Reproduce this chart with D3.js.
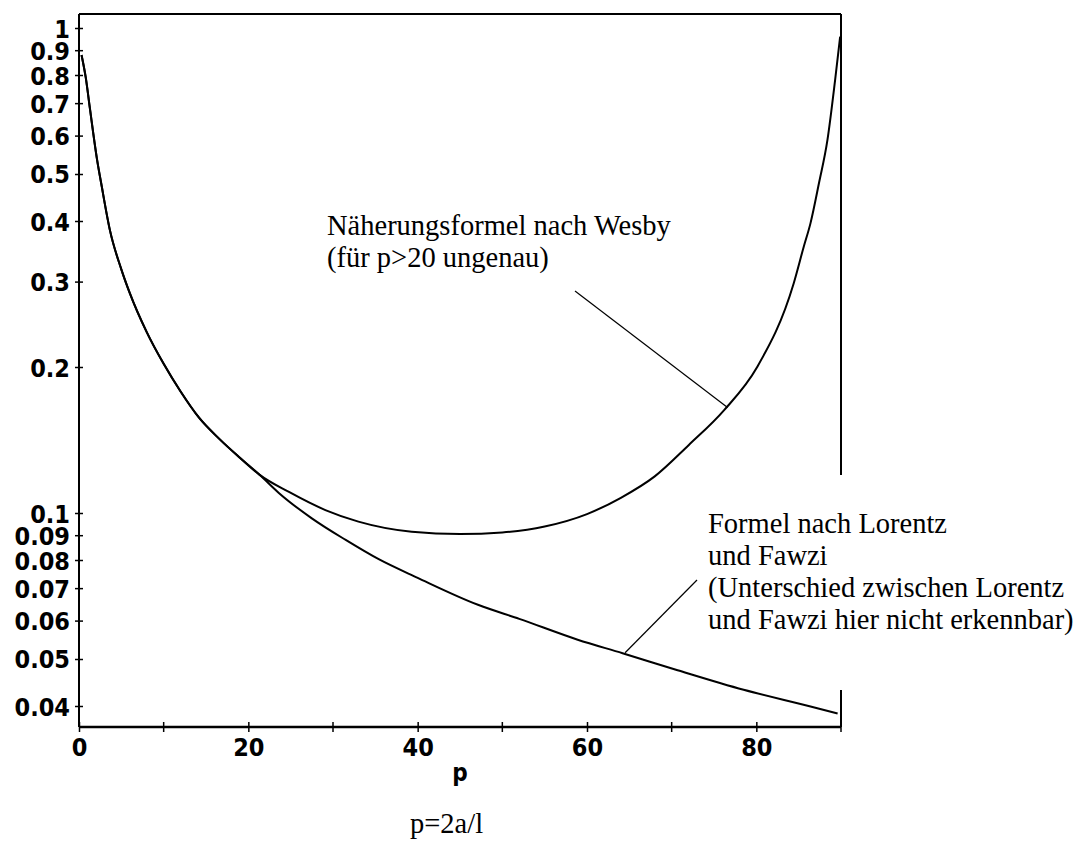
<!DOCTYPE html>
<html>
<head>
<meta charset="utf-8">
<script src="https://cdn.jsdelivr.net/npm/d3@7"></script>
<style>
  html, body { margin: 0; padding: 0; background: #fff; }
  svg { display: block; }
  .tick text { font-family: "DejaVu Sans Condensed", "DejaVu Sans", sans-serif; font-stretch: condensed; font-weight: bold; font-size: 25px; fill: #000; }
  .note { font-family: "Liberation Serif", "Times New Roman", serif; font-size: 28.5px; fill: #000; }
</style>
</head>
<body>
<svg id="chart" width="1088" height="843"></svg>
<script>
// ---- data ----
const xTicks = [0, 20, 40, 60, 80];
const xMinorTicks = [10, 30, 50, 70, 90];
const yTicks = [1, 0.9, 0.8, 0.7, 0.6, 0.5, 0.4, 0.3, 0.2, 0.1, 0.09, 0.08, 0.07, 0.06, 0.05, 0.04];
const yTickLabels = ["1", "0.9", "0.8", "0.7", "0.6", "0.5", "0.4", "0.3", "0.2", "0.1", "0.09", "0.08", "0.07", "0.06", "0.05", "0.04"];

// common part of both curves (p < ~21)
const commonP = [0.3, 0.8, 1.3, 2.1, 2.7, 3.65, 5, 6, 8, 10, 12, 14.2, 16.6, 19, 21.3];
const commonV = [0.88, 0.79, 0.68, 0.54, 0.47, 0.383, 0.318, 0.284, 0.236, 0.203, 0.178, 0.157, 0.142, 0.13, 0.12];

// Näherungsformel nach Wesby
const wesbyP = [24.8, 29.1, 33, 39.3, 45, 50, 55, 60, 64, 68, 72, 76.2, 80.1, 84.4, 85.6, 86.4, 87.4, 88.4, 89.3, 89.9];
const wesbyV = [0.1105, 0.1014, 0.096, 0.0915, 0.0905, 0.0912, 0.0938, 0.0995, 0.1075, 0.119, 0.138, 0.163, 0.2, 0.297, 0.354, 0.396, 0.479, 0.588, 0.78, 0.96];

// Formel nach Lorentz und Fawzi
const lorentzP = [23.6, 27.5, 31.5, 35.4, 40, 47.2, 52, 58.9, 64.2, 70.7, 78.5, 86.4, 89.6];
const lorentzV = [0.110, 0.0975, 0.088, 0.0803, 0.0735, 0.0646, 0.0605, 0.0548, 0.0514, 0.0474, 0.0432, 0.0399, 0.0386];

const wesbyText = ["Näherungsformel nach Wesby", "(für p>20 ungenau)"];
const lorentzText = ["Formel nach Lorentz", "und Fawzi", "(Unterschied zwischen Lorentz", "und Fawzi hier nicht erkennbar)"];

// ---- layout ----
const L = 79, R = 841, T = 14, B = 727;
const svg = d3.select("#chart");

const x = d3.scaleLinear().domain([0, 90]).range([L, R]);
const pxPerDecade = 485, yOne = 28;
const y = d3.scaleLog()
  .domain([Math.pow(10, -(B - yOne) / pxPerDecade), Math.pow(10, (yOne - T) / pxPerDecade)])
  .range([B, T]);

const zip = (ps, vs) => ps.map((p, i) => ({ p, v: vs[i] }));
const common = zip(commonP, commonV);
const wesby = common.concat(zip(wesbyP, wesbyV));
const lorentz = common.concat(zip(lorentzP, lorentzV));

// frame (top + partial right edge)
svg.append("line").attr("x1", L).attr("x2", R).attr("y1", T).attr("y2", T)
  .attr("stroke", "#000").attr("stroke-width", 2);
svg.append("line").attr("x1", R).attr("x2", R).attr("y1", T).attr("y2", 475)
  .attr("stroke", "#000").attr("stroke-width", 2);
svg.append("line").attr("x1", R).attr("x2", R).attr("y1", 690).attr("y2", B)
  .attr("stroke", "#000").attr("stroke-width", 2);

// y axis
const yAxis = svg.append("g").attr("transform", `translate(${L},0)`)
  .call(d3.axisLeft(y).tickValues(yTicks).tickSize(4).tickPadding(5)
    .tickFormat((d, i) => yTickLabels[i]));
yAxis.select(".domain").attr("stroke-width", 2).attr("d", `M0,${T}V${B}`);
yAxis.selectAll(".tick line").attr("stroke-width", 1.5).attr("x1", 4);
yAxis.selectAll(".tick text").attr("dy", "0.36em");

// x axis
const xAxis = svg.append("g").attr("transform", `translate(0,${B})`)
  .call(d3.axisBottom(x).tickValues(xTicks).tickSize(5).tickPadding(6).tickFormat(d3.format("d")));
xAxis.select(".domain").attr("stroke-width", 2.5).attr("d", `M${L},0H${R}`);
xAxis.selectAll(".tick line").attr("stroke-width", 1.5).attr("y1", -5);
xAxis.selectAll(".minor").data(xMinorTicks).enter().append("line")
  .attr("class", "minor")
  .attr("x1", d => x(d)).attr("x2", d => x(d)).attr("y1", -5).attr("y2", 5)
  .attr("stroke", "#000").attr("stroke-width", 1.5);

// axis title
svg.append("text").attr("x", (L + R) / 2).attr("y", 781).attr("text-anchor", "middle")
  .attr("font-family", "'DejaVu Sans Condensed', 'DejaVu Sans', sans-serif")
  .attr("font-weight", "bold").attr("font-size", 24).text("p");

// curves
const line = d3.line().x(d => x(d.p)).y(d => y(d.v)).curve(d3.curveMonotoneX);
svg.append("path").datum(wesby).attr("d", line)
  .attr("fill", "none").attr("stroke", "#000").attr("stroke-width", 2);
svg.append("path").datum(lorentz).attr("d", line)
  .attr("fill", "none").attr("stroke", "#000").attr("stroke-width", 2);

// annotations
const wesbyAnchor = { p: 76.6, v: 0.165 };
const lorentzAnchor = { p: 64.5, v: 0.0515 };
svg.append("line").attr("x1", 575).attr("y1", 291)
  .attr("x2", x(wesbyAnchor.p)).attr("y2", y(wesbyAnchor.v))
  .attr("stroke", "#000").attr("stroke-width", 1.2);
svg.append("line").attr("x1", 697).attr("y1", 580)
  .attr("x2", x(lorentzAnchor.p)).attr("y2", y(lorentzAnchor.v))
  .attr("stroke", "#000").attr("stroke-width", 1.2);

svg.selectAll(".wnote").data(wesbyText).enter().append("text")
  .attr("class", "note").attr("x", 327).attr("y", (d, i) => 235 + i * 32).text(d => d);
svg.selectAll(".lnote").data(lorentzText).enter().append("text")
  .attr("class", "note").attr("x", 708).attr("y", (d, i) => 533 + i * 32).text(d => d);

svg.append("text").attr("class", "note").attr("x", 410).attr("y", 833).text("p=2a/l");
</script>
</body>
</html>
